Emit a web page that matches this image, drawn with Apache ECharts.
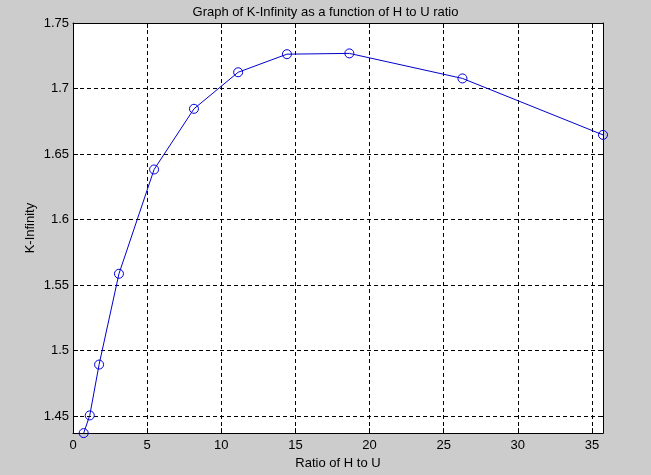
<!DOCTYPE html>
<html>
<head>
<meta charset="utf-8">
<script src="https://cdn.jsdelivr.net/npm/echarts@6/dist/echarts.min.js"></script>
<style>
  html, body { margin: 0; padding: 0; background: #cccccc; }
  #chart { width: 651px; height: 475px; }
</style>
</head>
<body>
<div id="chart"></div>
<script>
// H/U ratio vs k-infinity
var ratio = [0.72, 1.13, 1.76, 3.1, 5.47, 8.16, 11.14, 14.43, 18.64, 26.27, 35.75];
var kInf = [1.437, 1.4505, 1.4893, 1.5586, 1.6382, 1.6845, 1.7124, 1.7262, 1.7268, 1.7077, 1.6646];

var xMin = 0, xMax = 35.75, xStep = 5;
var yMin = 1.437, yMax = 1.75;

var font = 'Liberation Sans';
var gridDash = { type: [4, 3], color: '#000', width: 1 };

function xAx(pos, show) {
    return {
        type: 'value', position: pos, min: xMin, max: xMax, interval: xStep,
        axisLine: { show: true, onZero: false, lineStyle: { color: '#000', width: 1 } },
        axisTick: { show: true, inside: true, length: 5, lineStyle: { color: '#000' } },
        axisLabel: { show: show, color: '#000', fontFamily: font, fontSize: 13, margin: 6, showMaxLabel: false },
        splitLine: { show: show, lineStyle: gridDash }
    };
}
function yAx(pos, show) {
    return {
        type: 'value', position: pos, min: yMin, max: yMax, splitNumber: 6,
        axisLine: { show: true, onZero: false, lineStyle: { color: '#000', width: 1 } },
        axisTick: { show: true, inside: true, length: 5, lineStyle: { color: '#000' } },
        axisLabel: { show: show, color: '#000', fontFamily: font, fontSize: 13, margin: 4, showMinLabel: false },
        splitLine: { show: show, lineStyle: gridDash }
    };
}

var chart = echarts.init(document.getElementById('chart'));
var xBottom = xAx('bottom', true);
xBottom.name = 'Ratio of H to U';
xBottom.nameLocation = 'middle';
xBottom.nameGap = 21;
xBottom.nameTextStyle = { color: '#000', fontFamily: font, fontSize: 13 };
var yLeft = yAx('left', true);
yLeft.name = 'K-Infinity';
yLeft.nameLocation = 'middle';
yLeft.nameGap = 36;
yLeft.nameMoveOverlap = false;
yLeft.nameTextStyle = { color: '#000', fontFamily: font, fontSize: 13 };

chart.setOption({
    backgroundColor: '#cccccc',
    animation: false,
    title: {
        text: 'Graph of K-Infinity as a function of H to U ratio',
        left: 'center', top: 1,
        textStyle: { color: '#000', fontFamily: font, fontSize: 13, fontWeight: 'normal' }
    },
    grid: { left: 73, top: 23, right: 48, bottom: 39, show: true, backgroundColor: '#fff', borderWidth: 0 },
    xAxis: [xBottom, xAx('top', false)],
    yAxis: [yLeft, yAx('right', false)],
    series: [{
        type: 'line',
        data: ratio.map(function (r, i) { return [r, kInf[i]]; }),
        symbol: 'circle',
        symbolSize: 9,
        lineStyle: { color: '#0000cc', width: 1 },
        itemStyle: { color: 'rgba(0,0,0,0)', borderColor: '#0000dd', borderWidth: 1 }
    }]
});
</script>
</body>
</html>
